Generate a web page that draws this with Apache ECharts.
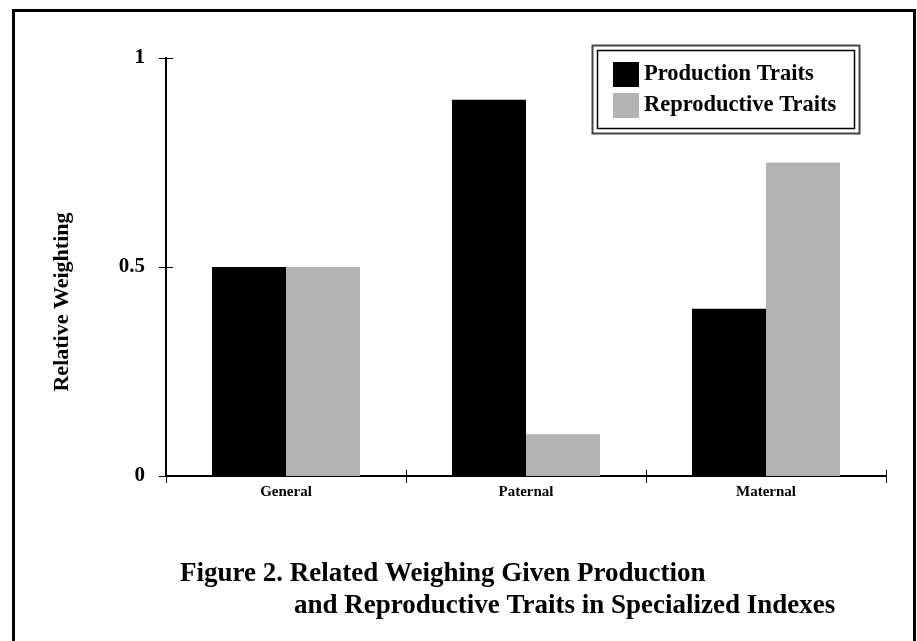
<!DOCTYPE html>
<html>
<head>
<meta charset="utf-8">
<script src="https://cdn.jsdelivr.net/npm/echarts@6/dist/echarts.min.js"></script>
<style>
  html, body { margin: 0; padding: 0; background: #fff; }
  #chart { width: 917px; height: 641px; }
</style>
</head>
<body>
<div id="chart"></div>
<script>
var categories = ['General', 'Paternal', 'Maternal'];
var productionTraits = [0.5, 0.9, 0.4];
var reproductiveTraits = [0.5, 0.1, 0.75];
var yTicks = [0, 0.5, 1];

var serif = '"Liberation Serif", "DejaVu Serif", serif';

var chart = echarts.init(document.getElementById('chart'));

var option = {
    backgroundColor: '#fff',
    animation: false,
    title: [
        {
            text: 'Figure 2. Related Weighing Given Production',
            left: 180,
            top: 561,
            padding: 0,
            textStyle: { fontFamily: serif, fontWeight: 'bold', fontSize: 27, color: '#000' }
        },
        {
            text: 'and Reproductive Traits in Specialized Indexes',
            left: 294,
            top: 593,
            padding: 0,
            textStyle: { fontFamily: serif, fontWeight: 'bold', fontSize: 27, color: '#000' }
        }
    ],
    legend: {
        orient: 'vertical',
        left: 613,
        top: 62,
        itemWidth: 26,
        itemHeight: 25,
        itemGap: 6,
        icon: 'rect',
        padding: 0,
        textStyle: { fontFamily: serif, fontWeight: 'bold', fontSize: 22.5, color: '#000' },
        data: ['Production Traits', 'Reproductive Traits']
    },
    grid: { left: 166, right: 31, top: 58, bottom: 165 },
    xAxis: [
        {
            type: 'category',
            data: categories,
            axisLine: { lineStyle: { color: '#000', width: 2 } },
            axisTick: { show: true, length: 7, lineStyle: { color: '#000', width: 1 } },
            axisLabel: { margin: 9, fontFamily: serif, fontWeight: 'bold', fontSize: 15, color: '#000' }
        },
        {
            // second axis only draws the inner half of the crossing ticks
            type: 'category',
            data: categories,
            position: 'bottom',
            gridIndex: 0,
            axisLine: { show: true, lineStyle: { color: '#000', width: 2 } },
            axisTick: { show: true, inside: true, length: 6, lineStyle: { color: '#000', width: 1 } },
            axisLabel: { show: false }
        }
    ],
    yAxis: [
        {
            type: 'value',
            min: 0,
            max: 1,
            interval: 0.5,
            splitLine: { show: false },
            axisLine: { show: true, lineStyle: { color: '#000', width: 2 } },
            axisTick: { show: true, length: 7, lineStyle: { color: '#000', width: 1 } },
            axisLabel: {
                margin: 21,
                fontFamily: serif,
                fontWeight: 'bold',
                fontSize: 21,
                color: '#000',
                formatter: function (v) {
                    return yTicks.indexOf(v) >= 0 ? String(v) : '';
                }
            }
        },
        {
            type: 'value',
            min: 0,
            max: 1,
            interval: 0.5,
            position: 'left',
            gridIndex: 0,
            splitLine: { show: false },
            axisLine: { show: true, lineStyle: { color: '#000', width: 2 } },
            axisTick: { show: true, inside: true, length: 7, lineStyle: { color: '#000', width: 1 } },
            axisLabel: { show: false }
        }
    ],
    series: [
        {
            name: 'Production Traits',
            type: 'bar',
            data: productionTraits,
            barWidth: 74,
            barGap: '0%',
            itemStyle: { color: '#000' }
        },
        {
            name: 'Reproductive Traits',
            type: 'bar',
            data: reproductiveTraits,
            barWidth: 74,
            barGap: '0%',
            itemStyle: { color: '#b3b3b3' }
        }
    ],
    graphic: [
        // outer page frame
        {
            type: 'rect',
            shape: { x: 13.5, y: 10.5, width: 901, height: 700 },
            style: { fill: null, stroke: '#000', lineWidth: 3 },
            silent: true
        },
        // legend double border
        {
            type: 'rect',
            shape: { x: 592.5, y: 45.5, width: 267, height: 88 },
            style: { fill: null, stroke: '#444', lineWidth: 2 },
            silent: true
        },
        {
            type: 'rect',
            shape: { x: 597.5, y: 50.5, width: 257, height: 78 },
            style: { fill: null, stroke: '#000', lineWidth: 1.5 },
            silent: true
        },
        // y axis title, sits a bit below the axis middle in the original
        {
            type: 'text',
            x: 62,
            y: 302,
            rotation: Math.PI / 2,
            silent: true,
            style: {
                text: 'Relative Weighting',
                fontFamily: serif,
                fontWeight: 'bold',
                fontSize: 22,
                fill: '#000',
                align: 'center',
                verticalAlign: 'middle'
            }
        }
    ]
};

chart.setOption(option);
</script>
</body>
</html>
